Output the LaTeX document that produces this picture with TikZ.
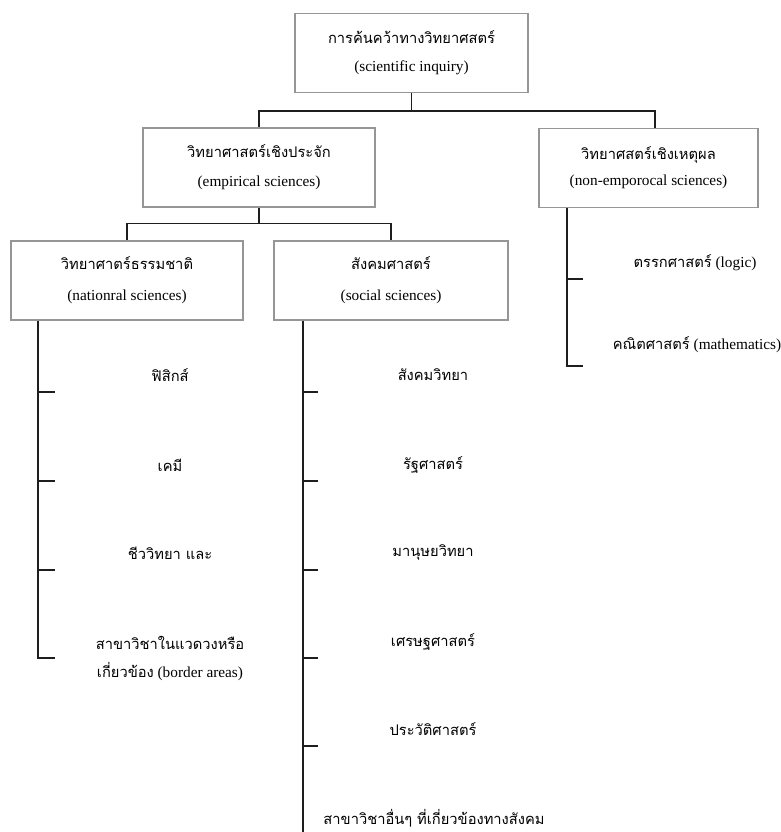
\documentclass[tikz,border=0pt]{standalone}
\usepackage{fontspec}
\setmainfont{Liberation Serif}
\newfontfamily\thaifont[Script=Thai]{Loma}
\newcommand{\thtxt}[1]{{\thaifont\fontsize{14.7pt}{17pt}\selectfont #1}}
\usetikzlibrary{positioning, calc}
\definecolor{BoxGray}{RGB}{150, 150, 150}
\definecolor{LineBlack}{RGB}{30, 30, 30}

\begin{document}
\begin{tikzpicture}[x=1pt, y=-1pt,
        box/.style={draw=BoxGray, line width=1.3pt, inner sep=0pt, minimum height=79pt, align=center, font=\fontsize{15.3pt}{18pt}\selectfont},
        conn/.style={draw=LineBlack, line width=1.4pt},
        item/.style={inner sep=1pt, align=center, font=\fontsize{15.3pt}{18pt}\selectfont}]
        \useasboundingbox (0,0) rectangle (781,832);
        % boxes
        \node[box, minimum width=233pt] (top) at (411.5,53) {\thtxt{การค้นคว้าทางวิทยาศสตร์}\\[10pt](scientific inquiry)};
        \node[box, minimum width=232pt] (emp) at (259,167.5) {\thtxt{วิทยาศาสตร์เชิงประจัก}\\[11pt](empirical sciences)};
        \node[box, minimum width=219pt] (rat) at (648.5,168) {\thtxt{วิทยาศสตร์เชิงเหตุผล}\\[8pt](non-emporocal sciences)};
        \node[box, minimum width=232pt] (nat) at (127,280.5) {\thtxt{วิทยาศาตร์ธรรมชาติ}\\[13pt](nationral sciences)};
        \node[box, minimum width=234pt] (soc) at (391,280.5) {\thtxt{สังคมศาสตร์}\\[13pt](social sciences)};
        % tree connectors
        \draw[conn] (top.south) -- ++(0,18) coordinate (j1);
        \draw[conn] (j1) -| (emp.north);
        \draw[conn] (j1) -| ([xshift=6.5pt]rat.north);
        \draw[conn] (emp.south) -- ++(0,16) coordinate (j2);
        \draw[conn] (j2) -| (nat.north);
        \draw[conn] (j2) -| (soc.north);
        % natural sciences list
        \node[item] (phys) at (170,375) {\thtxt{ฟิสิกส์}};
        \node[item] (chem) at (170,465) {\thtxt{เคมี}};
        \node[item] (bio) at (170,553) {\thtxt{ชีววิทยา และ}};
        \node[item] (border) at (170,659) {\thtxt{สาขาวิชาในแวดวงหรือ}\\[10pt]\thtxt{เกี่ยวข้อง} (border areas)};
        \coordinate (natend) at (38,658);
        \draw[conn] (nat.south -| natend) -- (natend) -- ++(17,0);
        \draw[conn] (38,392) -- ++(17,0);
        \draw[conn] (38,481) -- ++(17,0);
        \draw[conn] (38,570) -- ++(17,0);
        % social sciences list
        \node[item] (socio) at (433,375) {\thtxt{สังคมวิทยา}};
        \node[item] (polit) at (433,465) {\thtxt{รัฐศาสตร์}};
        \node[item] (anthro) at (433,553) {\thtxt{มานุษยวิทยา}};
        \node[item] (econ) at (433,642) {\thtxt{เศรษฐศาสตร์}};
        \node[item] (hist) at (433,729) {\thtxt{ประวัติศาสตร์}};
        \node[item] (other) at (434,818) {\thtxt{สาขาวิชาอื่นๆ ที่เกี่ยวข้องทางสังคม}};
        \coordinate (socend) at (303,832);
        \draw[conn] (soc.south -| socend) -- (socend);
        \draw[conn] (303,392) -- ++(15,0);
        \draw[conn] (303,481) -- ++(15,0);
        \draw[conn] (303,570) -- ++(15,0);
        \draw[conn] (303,658) -- ++(15,0);
        \draw[conn] (303,746) -- ++(15,0);
        % non-empirical list
        \node[item] (logic) at (695,263) {\thtxt{ตรรกศาสตร์} (logic)};
        \node[item] (math) at (697,345) {\thtxt{คณิตศาสตร์} (mathematics)};
        \coordinate (ratend) at (567,366);
        \draw[conn] (rat.south -| ratend) -- (ratend) -- ++(16,0);
        \draw[conn] (567,279) -- ++(16,0);
    \end{tikzpicture}
\end{document}
